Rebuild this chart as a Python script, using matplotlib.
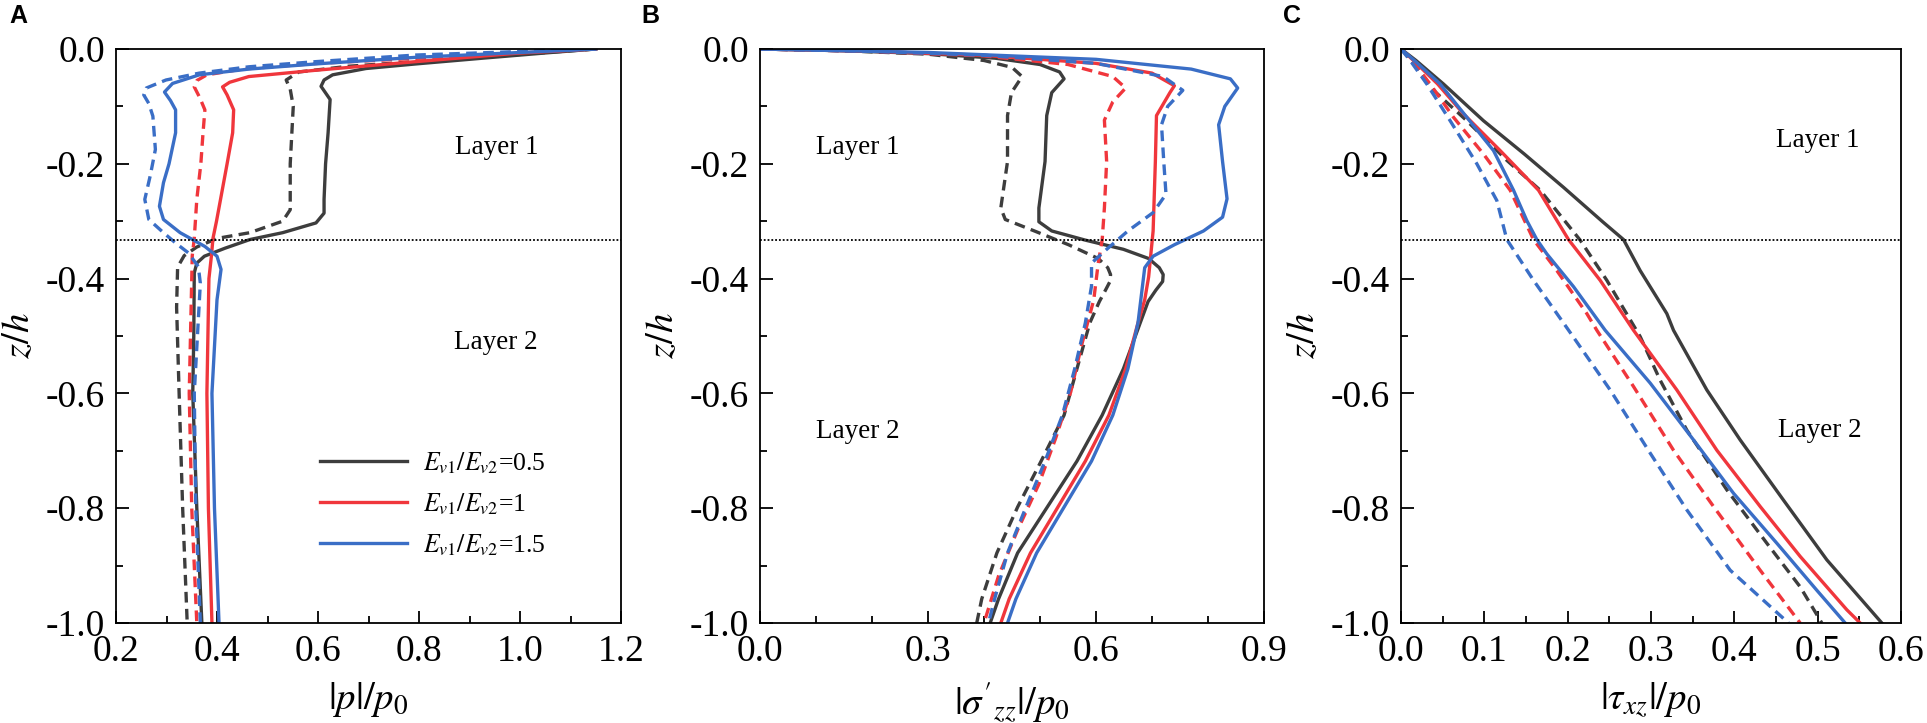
import matplotlib
matplotlib.use("Agg")
import matplotlib.pyplot as plt
from matplotlib.ticker import MultipleLocator, FormatStrFormatter

plt.rcParams['font.family'] = ['Liberation Serif', 'DejaVu Serif']
plt.rcParams['mathtext.fontset'] = 'stix'
plt.rcParams['axes.unicode_minus'] = False

# ---- panel A : |p|/p0 ----
za_black = [0, -0.0064, -0.016, -0.026, -0.034, -0.045, -0.054, -0.065, -0.088, -0.146, -0.2, -0.262,
            -0.286, -0.303, -0.32, -0.332, -0.347, -0.361, -0.373, -0.39, -0.5, -0.6, -0.8, -1.0]
pa_black = [1.15, 1.057, 0.926, 0.794, 0.695, 0.629, 0.612, 0.606, 0.624, 0.62, 0.615, 0.612,
            0.612, 0.596, 0.53, 0.465, 0.416, 0.375, 0.36, 0.355, 0.354, 0.352, 0.36, 0.37]
za_black_d = [0, -0.01, -0.022, -0.03, -0.04, -0.054, -0.07, -0.1, -0.2, -0.28, -0.3, -0.32, -0.33,
              -0.345, -0.36, -0.38, -0.45, -0.6, -0.8, -1.0]
pa_black_d = [1.15, 0.99, 0.794, 0.661, 0.562, 0.537, 0.545, 0.551, 0.545, 0.545, 0.53, 0.465, 0.4,
              0.36, 0.335, 0.322, 0.32, 0.325, 0.332, 0.341]
za_red = [0, -0.0075, -0.022, -0.037, -0.048, -0.058, -0.066, -0.08, -0.106, -0.146, -0.2, -0.262,
          -0.3, -0.33, -0.36, -0.4, -0.6, -0.8, -1.0]
pa_red = [1.15, 0.992, 0.794, 0.596, 0.463, 0.425, 0.411, 0.42, 0.433, 0.431, 0.42, 0.407,
          0.399, 0.392, 0.389, 0.384, 0.38, 0.383, 0.39]
za_red_d = [0, -0.006, -0.016, -0.025, -0.035, -0.045, -0.055, -0.066, -0.085, -0.106, -0.15, -0.2,
            -0.262, -0.33, -0.36, -0.4, -0.6, -0.8, -1.0]
pa_red_d = [1.15, 0.98, 0.8, 0.6, 0.45, 0.38, 0.36, 0.355, 0.366, 0.376, 0.372, 0.368,
            0.36, 0.355, 0.351, 0.35, 0.345, 0.35, 0.36]
za_blue = [0, -0.0145, -0.026, -0.035, -0.045, -0.06, -0.075, -0.09, -0.106, -0.146, -0.2, -0.233,
           -0.274, -0.297, -0.32, -0.344, -0.361, -0.384, -0.437, -0.6, -0.8, -1.0]
pa_blue = [1.15, 0.794, 0.596, 0.463, 0.365, 0.312, 0.296, 0.308, 0.318, 0.318, 0.305, 0.294,
           0.286, 0.294, 0.327, 0.376, 0.4, 0.408, 0.4, 0.39, 0.395, 0.404]
za_blue_d = [0, -0.0105, -0.022, -0.031, -0.042, -0.054, -0.068, -0.08, -0.095, -0.117, -0.175, -0.22,
             -0.262, -0.297, -0.32, -0.338, -0.355, -0.379, -0.408, -0.6, -0.8, -1.0]
pa_blue_d = [1.15, 0.794, 0.596, 0.463, 0.365, 0.299, 0.26, 0.255, 0.265, 0.273, 0.278, 0.268,
             0.257, 0.265, 0.294, 0.318, 0.343, 0.363, 0.367, 0.355, 0.358, 0.367]

# ---- panel B : |sigma'zz|/p0 ----
zb_black = [0, -0.003, -0.008, -0.016, -0.027, -0.04, -0.052, -0.076, -0.116, -0.196, -0.277, -0.301,
            -0.317, -0.333, -0.349, -0.365, -0.381, -0.393, -0.405, -0.42, -0.44, -0.477, -0.557,
            -0.638, -0.718, -0.798, -0.878, -0.958, -1.0]
sb_black = [0, 0.15, 0.3, 0.42, 0.5, 0.535, 0.543, 0.521, 0.512, 0.509, 0.498, 0.498,
            0.521, 0.581, 0.649, 0.694, 0.713, 0.72, 0.719, 0.707, 0.693, 0.679, 0.649,
            0.611, 0.566, 0.513, 0.46, 0.426, 0.411]
zb_black_d = [0, -0.003, -0.009, -0.02, -0.032, -0.048, -0.076, -0.116, -0.196, -0.277, -0.297, -0.317,
              -0.341, -0.365, -0.381, -0.393, -0.405, -0.42, -0.44, -0.477, -0.557, -0.638, -0.718,
              -0.798, -0.878, -0.958, -1.0]
sb_black_d = [0, 0.15, 0.3, 0.4, 0.45, 0.468, 0.449, 0.442, 0.442, 0.43, 0.438, 0.49,
              0.551, 0.604, 0.621, 0.626, 0.625, 0.617, 0.606, 0.589, 0.566, 0.543, 0.502,
              0.46, 0.423, 0.396, 0.387]
zb_red = [0, -0.004, -0.011, -0.025, -0.042, -0.064, -0.076, -0.116, -0.196, -0.317, -0.397, -0.437,
          -0.477, -0.557, -0.638, -0.718, -0.798, -0.878, -0.958, -1.0]
sb_red = [0, 0.2, 0.4, 0.6, 0.7, 0.74, 0.732, 0.708, 0.706, 0.702, 0.694, 0.687,
          0.675, 0.653, 0.623, 0.581, 0.532, 0.483, 0.445, 0.43]
zb_red_d = [0, -0.004, -0.012, -0.027, -0.048, -0.068, -0.092, -0.124, -0.196, -0.277, -0.333, -0.373,
            -0.437, -0.517, -0.597, -0.678, -0.758, -0.838, -0.918, -1.0]
sb_red_d = [0, 0.2, 0.4, 0.55, 0.63, 0.653, 0.63, 0.615, 0.619, 0.615, 0.611, 0.604,
            0.596, 0.574, 0.555, 0.528, 0.498, 0.46, 0.426, 0.4]
zb_blue = [0, -0.006, -0.018, -0.035, -0.052, -0.068, -0.1, -0.132, -0.196, -0.261, -0.293, -0.317,
           -0.341, -0.361, -0.381, -0.413, -0.477, -0.557, -0.638, -0.718, -0.798, -0.878, -0.958, -1.0]
sb_blue = [0, 0.3, 0.6, 0.77, 0.84, 0.853, 0.83, 0.819, 0.826, 0.834, 0.826, 0.792,
           0.74, 0.702, 0.687, 0.683, 0.675, 0.657, 0.63, 0.592, 0.543, 0.494, 0.457, 0.442]
zb_blue_d = [0, -0.004, -0.011, -0.025, -0.048, -0.072, -0.1, -0.132, -0.196, -0.253, -0.285, -0.317,
             -0.349, -0.373, -0.413, -0.477, -0.557, -0.638, -0.718, -0.798, -0.878, -0.958, -1.0]
sb_blue_d = [0, 0.2, 0.4, 0.6, 0.72, 0.755, 0.728, 0.717, 0.721, 0.725, 0.702, 0.657,
             0.619, 0.592, 0.592, 0.581, 0.562, 0.54, 0.509, 0.475, 0.442, 0.419, 0.408]

# ---- panel C : |tau_xz|/p0 ----
zc_black = [0, -0.02, -0.061, -0.125, -0.183, -0.241, -0.301, -0.332, -0.386, -0.461, -0.49, -0.594,
            -0.681, -0.786, -0.89, -1.0]
tc_black = [0, 0.018, 0.051, 0.099, 0.148, 0.195, 0.242, 0.267, 0.287, 0.319, 0.327, 0.367,
            0.407, 0.459, 0.511, 0.577]
zc_black_d = [0, -0.02, -0.072, -0.125, -0.194, -0.246, -0.333, -0.403, -0.501, -0.577, -0.664,
              -0.768, -0.861, -0.937, -1.0]
tc_black_d = [0, 0.013, 0.039, 0.079, 0.127, 0.167, 0.215, 0.247, 0.287, 0.311, 0.343,
              0.391, 0.439, 0.479, 0.505]
zc_red = [0, -0.02, -0.061, -0.113, -0.177, -0.246, -0.332, -0.403, -0.49, -0.594, -0.699, -0.797,
          -0.884, -0.977, -1.0]
tc_red = [0, 0.015, 0.044, 0.075, 0.119, 0.165, 0.201, 0.239, 0.279, 0.331, 0.379, 0.431,
          0.479, 0.535, 0.551]
zc_red_d = [0, -0.02, -0.061, -0.119, -0.183, -0.246, -0.332, -0.386, -0.461, -0.49, -0.588, -0.699,
            -0.797, -0.908, -1.0]
tc_red_d = [0, 0.013, 0.035, 0.063, 0.099, 0.131, 0.159, 0.187, 0.223, 0.235, 0.279, 0.327,
            0.375, 0.431, 0.479]
zc_blue = [0, -0.02, -0.061, -0.119, -0.177, -0.246, -0.299, -0.332, -0.357, -0.414, -0.49, -0.582,
           -0.681, -0.774, -0.861, -0.943, -1.0]
tc_blue = [0, 0.016, 0.047, 0.079, 0.111, 0.135, 0.151, 0.163, 0.175, 0.207, 0.245, 0.299,
           0.351, 0.399, 0.451, 0.499, 0.533]
zc_blue_d = [0, -0.02, -0.061, -0.125, -0.2, -0.264, -0.332, -0.403, -0.498, -0.594, -0.704,
             -0.803, -0.908, -1.0]
tc_blue_d = [0, 0.011, 0.031, 0.059, 0.091, 0.115, 0.127, 0.159, 0.205, 0.251, 0.299,
             0.343, 0.395, 0.465]

legend_labels = [r'$E_{v1}/E_{v2}$=0.5', r'$E_{v1}/E_{v2}$=1', r'$E_{v1}/E_{v2}$=1.5']
interface = -1 / 3

black = '#3d3d3d'
red = '#f0363c'
blue = '#3a6ec6'
lw = 2.4
dash = (0, (3.2, 1.9))

W, H = 1927, 723
fig = plt.figure(figsize=(W / 100, H / 100), dpi=100)
bot = (H - 623) / H
hgt = 574 / H
axA = fig.add_axes([116 / W, bot, 505 / W, hgt])
axB = fig.add_axes([760 / W, bot, 504 / W, hgt])
axC = fig.add_axes([1401 / W, bot, 500 / W, hgt])


def draw(ax, curves):
    for x, z, c, ls in curves:
        ax.plot(x, z, color=c, lw=lw, ls=ls)
    ax.axhline(interface, color='k', lw=1.3, ls=(0, (1, 1.1)))


draw(axA, [(pa_black, za_black, black, '-'), (pa_black_d, za_black_d, black, dash),
           (pa_red, za_red, red, '-'), (pa_red_d, za_red_d, red, dash),
           (pa_blue, za_blue, blue, '-'), (pa_blue_d, za_blue_d, blue, dash)])
draw(axB, [(sb_black, zb_black, black, '-'), (sb_black_d, zb_black_d, black, dash),
           (sb_red, zb_red, red, '-'), (sb_red_d, zb_red_d, red, dash),
           (sb_blue, zb_blue, blue, '-'), (sb_blue_d, zb_blue_d, blue, dash)])
draw(axC, [(tc_black, zc_black, black, '-'), (tc_black_d, zc_black_d, black, dash),
           (tc_red, zc_red, red, '-'), (tc_red_d, zc_red_d, red, dash),
           (tc_blue, zc_blue, blue, '-'), (tc_blue_d, zc_blue_d, blue, dash)])

# legend (solid lines only) in panel A
hA = axA.get_lines()
axA.legend([hA[0], hA[2], hA[4]], legend_labels, loc='center left',
           bbox_to_anchor=(0.404, 0.207), frameon=False, fontsize=18.5,
           handlelength=3.4, handletextpad=0.6, labelspacing=0.6, borderpad=0, borderaxespad=0)

limits = [(axA, 0.2, 1.2, 0.2, 0.1, r'$|p|/p_0$'),
          (axB, 0.0, 0.9, 0.3, 0.1, r"$|\sigma'_{zz}|/p_0$"),
          (axC, 0.0, 0.6, 0.1, 0.05, r'$|\tau_{xz}|/p_0$')]
for ax, x0, x1, maj, mnr, xl in limits:
    ax.set_xlim(x0, x1)
    ax.set_ylim(-1.0, 0.0)
    ax.xaxis.set_major_locator(MultipleLocator(maj))
    ax.xaxis.set_minor_locator(MultipleLocator(mnr))
    ax.yaxis.set_major_locator(MultipleLocator(0.2))
    ax.yaxis.set_minor_locator(MultipleLocator(0.1))
    ax.xaxis.set_major_formatter(FormatStrFormatter('%.1f'))
    ax.yaxis.set_major_formatter(FormatStrFormatter('%.1f'))
    ax.tick_params(which='both', direction='in', top=False, right=False, width=1.3, labelsize=27, pad=8)
    ax.tick_params(which='major', length=9)
    ax.tick_params(which='minor', length=5)
    for s in ax.spines.values():
        s.set_linewidth(1.3)
    ax.set_xlabel(xl, fontsize=28)
    ax.set_ylabel(r'$z/h$', fontsize=28)
    ax.xaxis.set_label_coords(0.5, -0.1)
    ax.yaxis.set_label_coords(-0.155, 0.5)

axA.text(0.953, -0.172, 'Layer 1', fontsize=19.5, ha='center', va='center')
axA.text(0.953, -0.512, 'Layer 2', fontsize=19.5, ha='center', va='center')
axB.text(0.174, -0.171, 'Layer 1', fontsize=19.5, ha='center', va='center')
axB.text(0.174, -0.667, 'Layer 2', fontsize=19.5, ha='center', va='center')
axC.text(0.50, -0.16, 'Layer 1', fontsize=19.5, ha='center', va='center')
axC.text(0.503, -0.664, 'Layer 2', fontsize=19.5, ha='center', va='center')

for letter, px in [('A', 18), ('B', 650), ('C', 1292)]:
    fig.text(px / W, 1 - 16 / H, letter, fontsize=18, fontweight='bold',
             family=['Liberation Sans', 'DejaVu Sans'], ha='center', va='center')

fig.savefig('out.png', dpi=100)
